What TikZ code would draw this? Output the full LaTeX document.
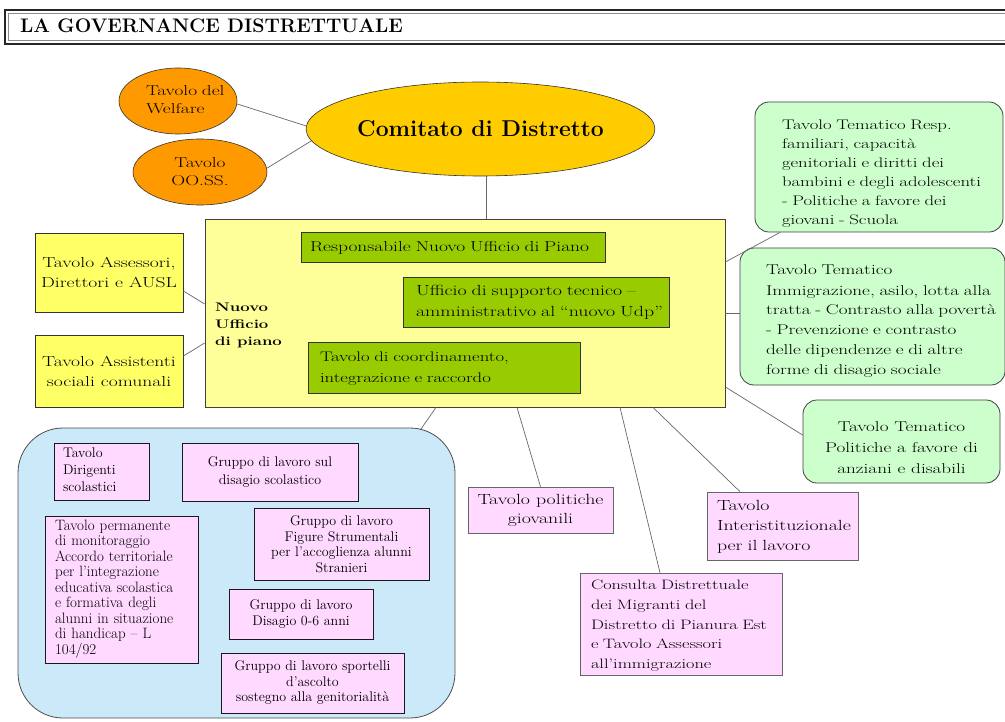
\documentclass[tikz,border=0pt]{standalone}
\usepackage{fontspec}
\newfontfamily\wide{lmroman17-regular.otf}[BoldFont=lmroman12-bold.otf, FakeStretch=1.35]
\usetikzlibrary{shapes.geometric}
\newcommand{\leftlines}[1]{\begin{tabular}{@{}l@{}}#1\end{tabular}}
\definecolor{orangeC}{HTML}{FF9900}
\definecolor{goldC}{HTML}{FFCC00}
\definecolor{nupC}{HTML}{FFFF99}
\definecolor{yelC}{HTML}{FFFF66}
\definecolor{greenC}{HTML}{99CC00}
\definecolor{lgreenC}{HTML}{CCFFCC}
\definecolor{pinkC}{HTML}{FFD9FF}
\definecolor{blueC}{HTML}{CCE9FA}
\tikzset{
  conn/.style={draw=black!60, line width=0.7pt},
  box/.style={rectangle, inner sep=0pt, draw=black!70, line width=0.6pt},
  orangeell/.style={ellipse, inner sep=0pt, fill=orangeC, draw=black!80, line width=0.6pt, font=\wide\fontsize{14.3}{18}\selectfont},
  innergreen/.style={box, fill=greenC, draw=black!80, line width=0.8pt, align=left, font=\wide\fontsize{14.7}{21}\selectfont},
  sideyellow/.style={box, fill=yelC, draw=black!80, line width=0.8pt, align=center, font=\wide\fontsize{14.5}{20}\selectfont},
  lgreen/.style={box, fill=lgreenC, draw=black!75, line width=0.8pt, rounded corners=14pt},
  pinkbox/.style={box, fill=pinkC, draw=black!60, line width=0.7pt, font=\wide\fontsize{14.7}{20}\selectfont},
  smallpink/.style={box, fill=pinkC, draw=black!90, line width=0.9pt, font=\fontsize{14}{15.5}\selectfont}
}
\begin{document}
\begin{tikzpicture}[x=1pt,y=-1pt]
\useasboundingbox (0,0) rectangle (1005,722);
% title frame
\draw[black!85, line width=1.3pt] (5,10) rectangle (1015,44);
\draw[black!45, line width=0.6pt] (8.5,13.5) rectangle (1015,40.5);
\node[anchor=base west, inner sep=0pt, font=\bfseries\fontsize{19.6}{22}\selectfont] (title) at (20,33) {LA GOVERNANCE DISTRETTUALE};

% ellipses
\node[orangeell, minimum width=118pt, minimum height=66pt, text width=64pt, align=left] (welfare) at (178,101) {\leftlines{Tavolo del\\Welfare}};
\node[orangeell, minimum width=134pt, minimum height=66pt, align=center] (oo) at (200,172) {Tavolo\\OO.SS.};
\node[ellipse, inner sep=0pt, fill=goldC, draw=black!80, line width=0.6pt, minimum width=295pt, minimum height=94pt, font=\bfseries\fontsize{22.9}{26}\selectfont] (comitato) at (480.5,129) {Comitato di Distretto};

% blue area
\node[box, fill=blueC, draw=black!70, line width=0.8pt, rounded corners=45pt, minimum width=437pt, minimum height=290pt] (blue) at (236.5,573) {};

% nuovo ufficio di piano
\node[box, fill=nupC, draw=black!75, line width=0.8pt, minimum width=520pt, minimum height=188pt] (nup) at (465,313) {};
\node[anchor=west, inner sep=0pt, align=left, font=\wide\bfseries\fontsize{12.4}{17}\selectfont] (nuplabel) at (215,325) {Nuovo\\Ufficio\\di piano};
\node[innergreen, minimum width=304pt, minimum height=30pt, text width=286pt, font=\wide\fontsize{14.4}{21}\selectfont] (resp) at (453,247) {\leftlines{Responsabile Nuovo Ufficio di Piano}};
\node[innergreen, minimum width=266pt, minimum height=50pt, text width=240pt] (supp) at (536,302) {\leftlines{Ufficio di supporto tecnico –\\amministrativo al “nuovo Udp”}};
\node[innergreen, minimum width=272pt, minimum height=51pt, text width=248pt, font=\wide\fontsize{13.9}{21}\selectfont] (coord) at (444,367.5) {\leftlines{Tavolo di coordinamento,\\integrazione e raccordo}};

% left yellow boxes
\node[sideyellow, minimum width=148pt, minimum height=79pt] (ass) at (109,272.5) {Tavolo Assessori,\\Direttori e AUSL};
\node[sideyellow, minimum width=148pt, minimum height=72pt] (assist) at (109,371) {Tavolo Assistenti\\sociali comunali};

% right green boxes
\node[lgreen, minimum width=248pt, minimum height=130pt, text width=194pt, align=left, font=\wide\fontsize{13.9}{19}\selectfont] (g1) at (879,167) {\leftlines{\rule{0pt}{26pt}Tavolo Tematico Resp.\\familiari, capacità\\genitoriali e diritti dei\\bambini e degli adolescenti\\- Politiche a favore dei\\giovani - Scuola}};
\node[lgreen, minimum width=265pt, minimum height=137pt, text width=213pt, align=left, font=\wide\fontsize{14.2}{19.7}\selectfont] (g2) at (872.5,316.5) {\leftlines{\rule{0pt}{21pt}Tavolo Tematico\\[1.5pt]Immigrazione, asilo, lotta alla\\tratta - Contrasto alla povertà\\- Prevenzione e contrasto\\delle dipendenze e di altre\\forme di disagio sociale}};
\node[lgreen, minimum width=197pt, minimum height=83pt, align=center, font=\wide\fontsize{14.2}{21}\selectfont] (g3) at (901.5,441.5) {\rule{0pt}{22pt}Tavolo Tematico\\Politiche a favore di\\anziani e disabili};

% pink boxes outside
\node[pinkbox, minimum width=145pt, minimum height=46pt, align=center, font=\wide\fontsize{14.7}{19}\selectfont] (pol) at (540.5,510) {Tavolo politiche\\giovanili};
\node[pinkbox, minimum width=151pt, minimum height=68pt, text width=131pt, align=left] (inter) at (782.5,526) {\leftlines{Tavolo\\Interistituzionale\\per il lavoro}};
\node[pinkbox, minimum width=202pt, minimum height=102pt, text width=180pt, align=left, font=\wide\fontsize{13.6}{19.7}\selectfont] (cons) at (681,624) {\leftlines{\rule{0pt}{16pt}Consulta Distrettuale\\dei Migranti del\\Distretto di Pianura Est\\e Tavolo Assessori\\all’immigrazione}};

% pink boxes in blue area
\node[smallpink, minimum width=95pt, minimum height=57pt, text width=77pt, align=left, font=\fontsize{14}{17}\selectfont] (dir) at (101.5,471.5) {\leftlines{Tavolo\\Dirigenti\\scolastici}};
\node[smallpink, minimum width=176pt, minimum height=58pt, align=center, font=\fontsize{14}{18}\selectfont] (dis) at (270,472) {Gruppo di lavoro sul\\disagio scolastico};
\node[smallpink, minimum width=153pt, minimum height=147pt, text width=133pt, align=left, font=\fontsize{15}{15.5}\selectfont] (perm) at (121.5,589.5) {\leftlines{Tavolo permanente\\di monitoraggio\\Accordo territoriale\\per l’integrazione\\educativa scolastica\\e formativa degli\\alunni in situazione\\di handicap – L\\104/92}};
\node[smallpink, minimum width=175pt, minimum height=72pt, align=center] (fig) at (341.5,544) {Gruppo di lavoro\\Figure Strumentali\\per l’accoglienza alunni\\Stranieri};
\node[smallpink, minimum width=144pt, minimum height=50pt, align=center] (d06) at (301,614) {Gruppo di lavoro\\Disagio 0-6 anni};
\node[smallpink, minimum width=183pt, minimum height=60pt, align=center] (sport) at (312.5,683) {Gruppo di lavoro sportelli\\d’ascolto\\sostegno alla genitorialità};

% connectors
\draw[conn] ([yshift=-3pt]welfare.east) -- (comitato.179);
\draw[conn] ([yshift=4pt]oo.east) -- (comitato.184);
\draw[conn] ([xshift=5.5pt]comitato.south) -- ([xshift=5.5pt]comitato.south |- nup.north);
\draw[conn] ([yshift=-18.5pt]ass.east) -- ([yshift=9pt]nup.west);
\draw[conn] ([yshift=15pt]assist.east) -- ([yshift=-30pt]nup.west);
\draw[conn] ([yshift=51pt]nup.east) -- ([xshift=-99pt]g1.south);
\draw[conn] (nup.east) -- (nup.east -| g2.west);
\draw[conn] ([yshift=-74pt]nup.east) -- ([yshift=6.5pt]g3.west);
\draw[conn] ([xshift=-29pt]nup.south) -- ([xshift=184.5pt,yshift=-1.4pt]blue.north);
\draw[conn] ([xshift=52pt]nup.south) -- (pol.north);
\draw[conn] ([xshift=155pt]nup.south) -- ([xshift=-21pt]cons.north);
\draw[conn] ([xshift=188pt]nup.south) -- ([xshift=-42.5pt]inter.north);
\end{tikzpicture}
\end{document}
